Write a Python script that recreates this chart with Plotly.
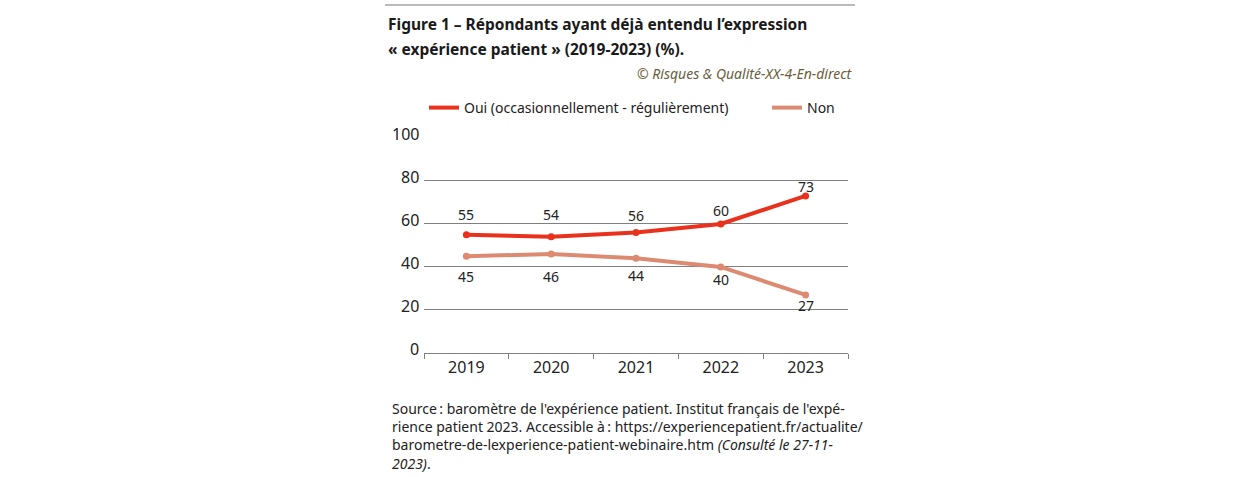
import plotly.graph_objects as go

years = ["2019", "2020", "2021", "2022", "2023"]
oui = [55, 54, 56, 60, 73]
non = [45, 46, 44, 40, 27]
y_ticks = [0, 20, 40, 60, 80, 100]

name_oui = "Oui (occasionnellement - régulièrement)"
name_non = "Non"
title_l1 = "Figure 1 – Répondants ayant déjà entendu l’expression"
title_l2 = "« expérience patient » (2019-2023) (%)."
credit = "© Risques & Qualité-XX-4-En-direct"
source = ("Source\u202f: baromètre de l'expérience patient. Institut français de l'expé-<br>"
          "rience patient 2023. Accessible à\u202f: https://experiencepatient.fr/actualite/<br>"
          "barometre-de-lexperience-patient-webinaire.htm <i>(Consulté le 27-11-</i><br>"
          "<i>2023)</i>.")

# style: vertical offsets (px) of the value labels, as placed in the original
oui_label_shift = [20, 22, 17, 13, 9]
non_label_shift = [-20, -22, -17, -13, -11]

RED = "#e8321e"
SALMON = "#dd8a72"
FONT = "Noto Sans"
TXT = "#222"
GRID = "#808080"

W, H = 1240, 477
# plot area in pixel coordinates
L, R, T, B = 424, 848, 137, 353


def px(x):
    return (x - L) / (R - L)


def py(y):
    return (B - y) / (B - T)


fig = go.Figure()
fig.add_trace(go.Scatter(x=years, y=oui, name=name_oui, mode="lines",
                         line=dict(color=RED, width=4), legend="legend"))
fig.add_trace(go.Scatter(x=years, y=non, name=name_non, mode="lines",
                         line=dict(color=SALMON, width=4), legend="legend2"))
fig.add_trace(go.Scatter(x=years, y=oui, mode="markers", showlegend=False,
                         marker=dict(size=7, color=RED), hoverinfo="skip"))
fig.add_trace(go.Scatter(x=years, y=non, mode="markers", showlegend=False,
                         marker=dict(size=7, color=SALMON), hoverinfo="skip"))

ann = []
for i, v in enumerate(oui):
    ann.append(dict(x=i, y=v, xref="x", yref="y", text=str(v), showarrow=False,
                    yshift=oui_label_shift[i], font=dict(size=14, color=TXT, family=FONT)))
for i, v in enumerate(non):
    ann.append(dict(x=i, y=v, xref="x", yref="y", text=str(v), showarrow=False,
                    yshift=non_label_shift[i], font=dict(size=14, color=TXT, family=FONT)))
for t in y_ticks:
    ann.append(dict(x=px(421), y=t, xref="paper", yref="y", text=str(t), showarrow=False,
                    xanchor="right", yanchor="middle", yshift=4,
                    font=dict(size=16, color=TXT, family=FONT)))

ann.append(dict(xref="paper", yref="paper", x=px(386), y=py(24), xanchor="left", yanchor="middle",
                text="<b>" + title_l1 + "</b>", showarrow=False,
                font=dict(size=15.5, color="#1a1a1a", family=FONT)))
ann.append(dict(xref="paper", yref="paper", x=px(386), y=py(49), xanchor="left", yanchor="middle",
                text="<b>" + title_l2 + "</b>", showarrow=False,
                font=dict(size=15.5, color="#1a1a1a", family=FONT)))
ann.append(dict(xref="paper", yref="paper", x=px(855), y=py(74), xanchor="right", yanchor="middle",
                text="<i>" + credit + "</i>", showarrow=False,
                font=dict(size=14, color="#6b5d3c", family=FONT)))
ann.append(dict(xref="paper", yref="paper", x=px(390), y=py(397), xanchor="left", yanchor="top",
                text=source, showarrow=False, align="left",
                font=dict(size=14, color=TXT, family=FONT)))

leg_common = dict(orientation="h", yanchor="middle", xanchor="left",
                  font=dict(size=14, color=TXT, family=FONT), itemwidth=30,
                  bgcolor="rgba(0,0,0,0)")

fig.update_layout(
    width=W, height=H,
    margin=dict(l=L, r=W - R, t=T, b=H - B, pad=0),
    paper_bgcolor="white", plot_bgcolor="white",
    font=dict(family=FONT, size=16, color=TXT),
    showlegend=True,
    legend=dict(x=px(424), y=py(108), **leg_common),
    legend2=dict(x=px(767), y=py(108), **leg_common),
    annotations=ann,
    shapes=[dict(type="line", xref="paper", yref="paper", x0=px(385), x1=px(855),
                 y0=py(5), y1=py(5), line=dict(color="#777", width=1))],
    xaxis=dict(type="category", range=[-0.5, 4.5], tickson="boundaries", ticks="outside",
               ticklen=5, tickcolor=GRID, showline=True, linecolor=GRID, linewidth=1,
               showgrid=False, tickfont=dict(size=16, color=TXT)),
    yaxis=dict(range=[0, 100.4], tickvals=y_ticks, showgrid=True, gridcolor=GRID, gridwidth=1,
               zeroline=False, showline=False, ticks="", showticklabels=False),
)

fig.write_html("out.html", config={"displayModeBar": False},
               post_script="document.body.style.margin='0px';")
